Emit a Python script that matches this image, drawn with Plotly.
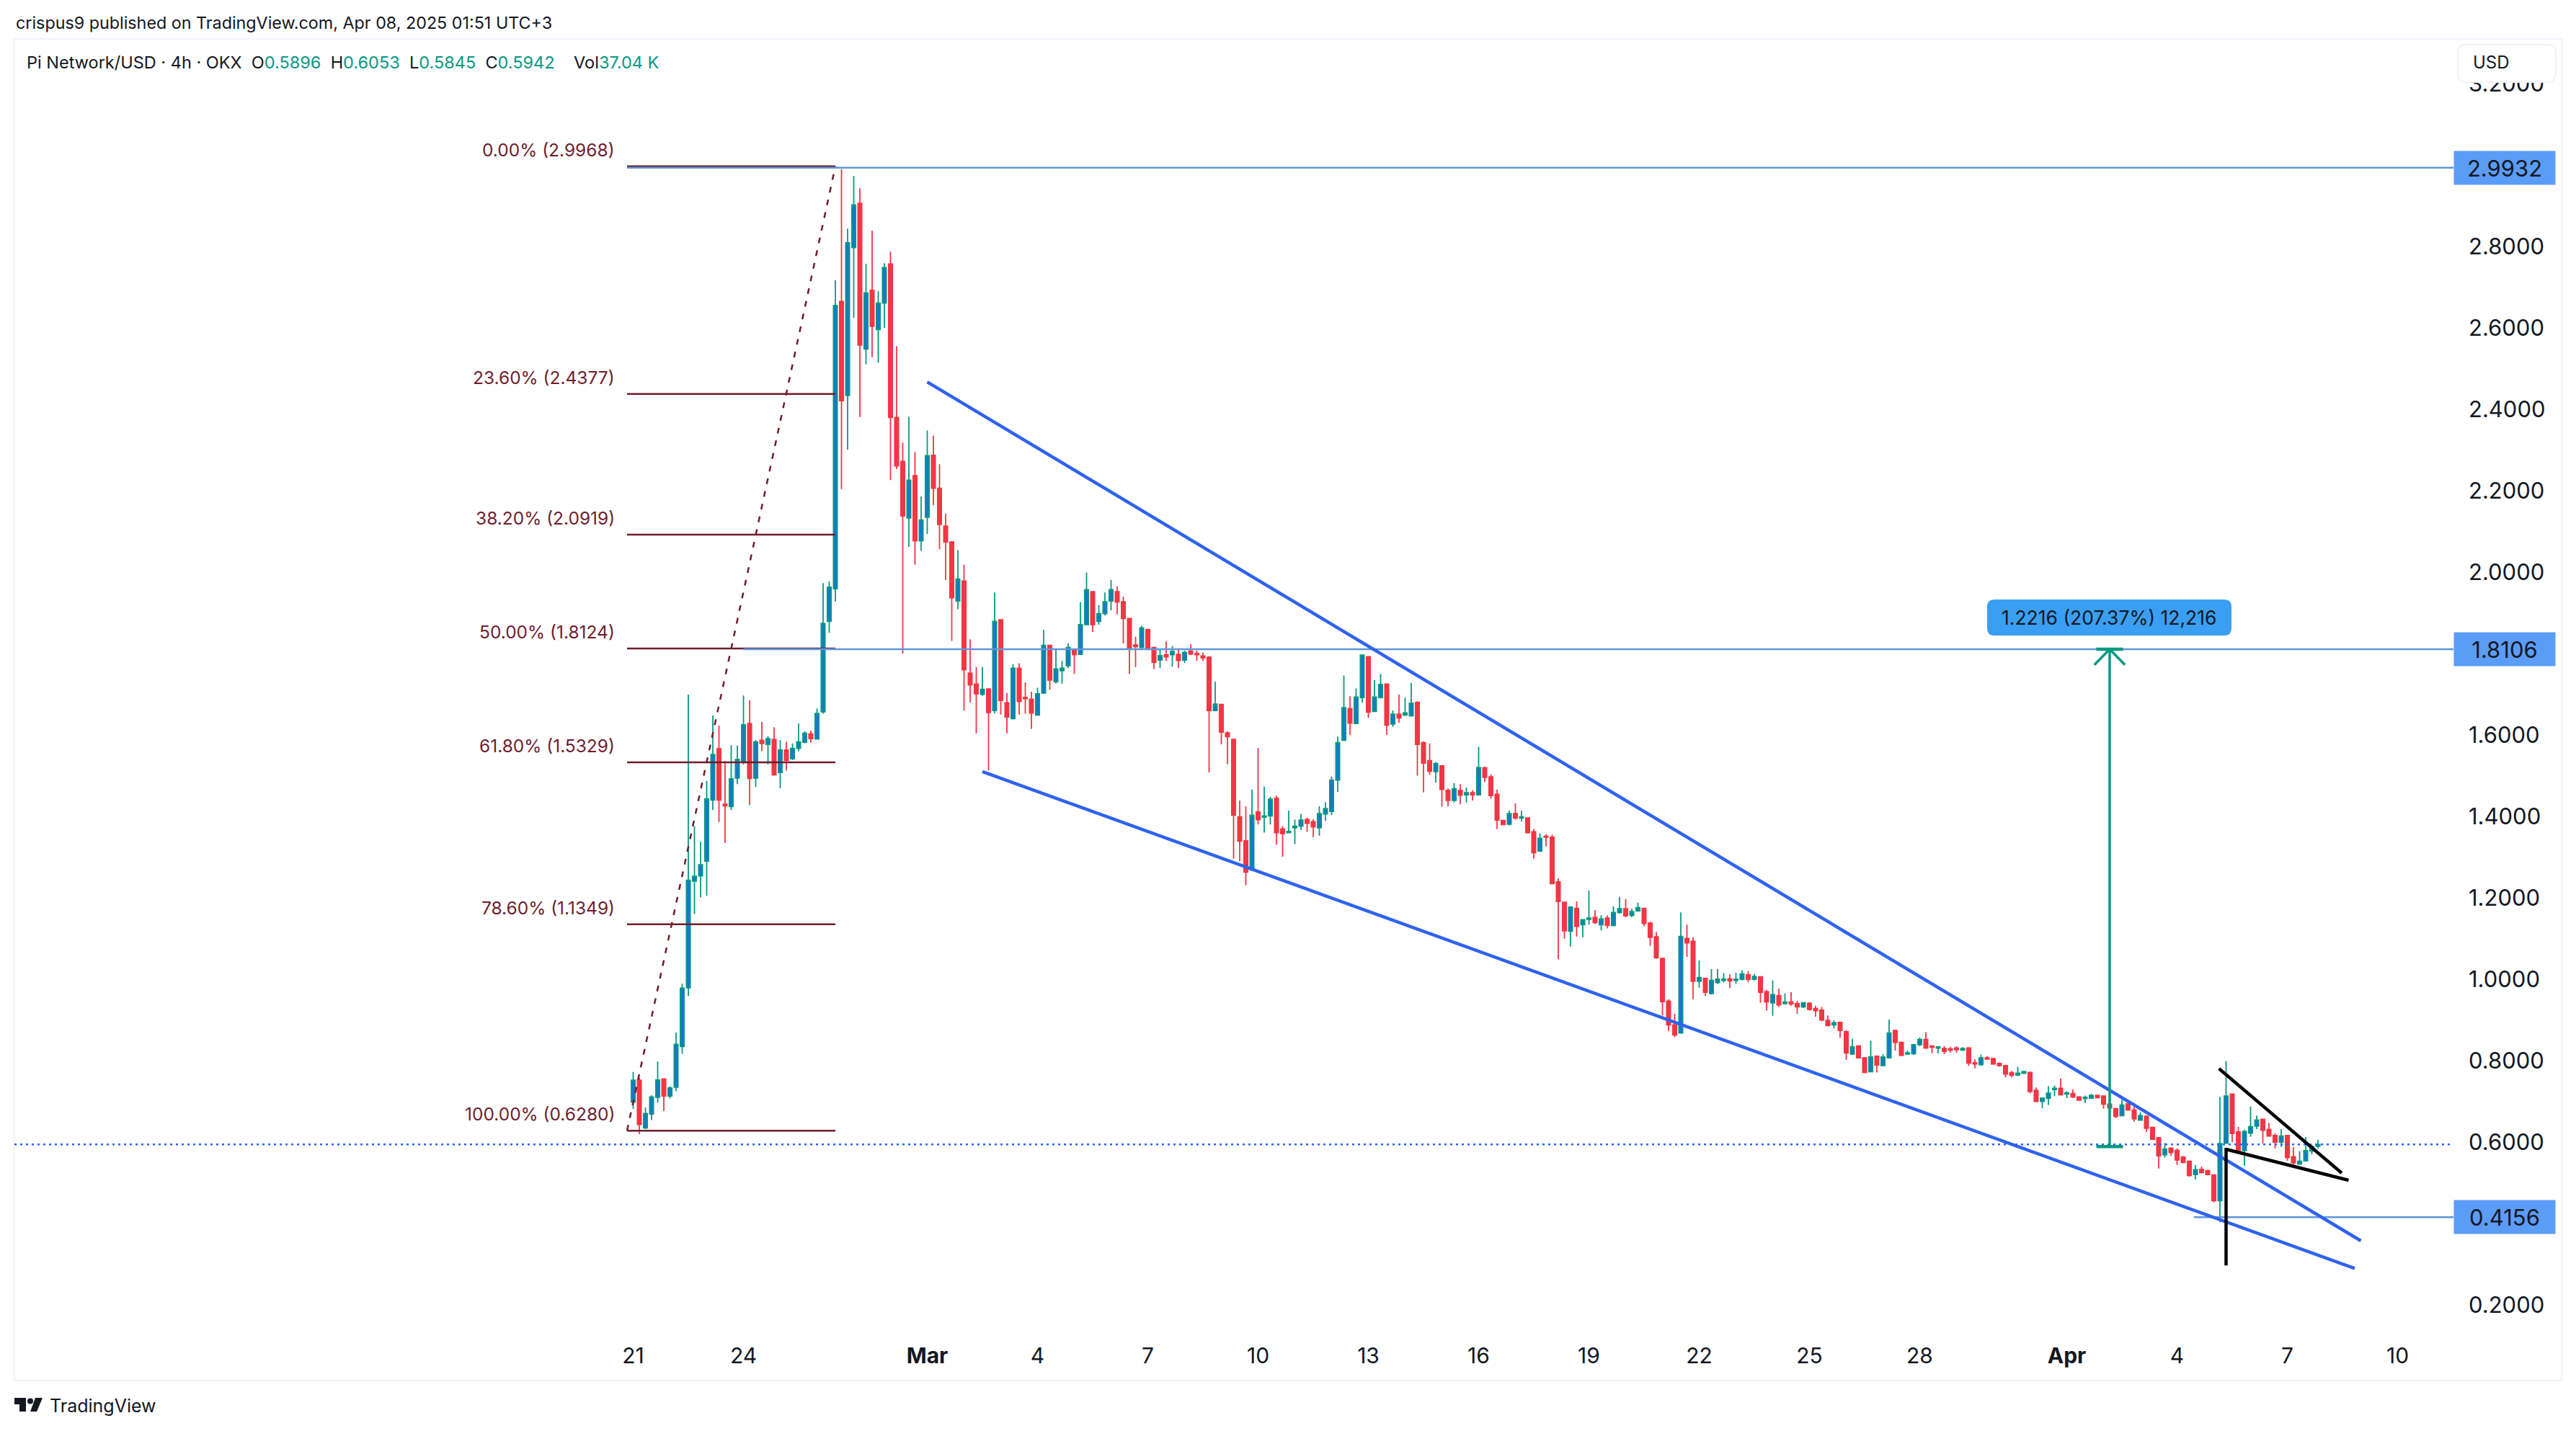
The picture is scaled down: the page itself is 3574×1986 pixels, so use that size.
import pandas as pd
import plotly.graph_objects as go

# page body keeps its default 8px margin, so the figure is 16px smaller than the window
PAGE_W, PAGE_H, BODY = 3574, 1986, 8
W, H = PAGE_W - 2 * BODY, PAGE_H - 2 * BODY
FONT = "Inter"
INK = "#131722"
TEAL = "#089981"
RED = "#f23645"
BODY_BLUE = "#1976d2"
WEDGE = "#2f62ee"
LEVEL = "#5f96dc"
LABEL_BOX = "#5b9cf6"
FIB = "#6f1d2c"

opens = [
    .698, .752, .635, .669, .710, .755, .713, .735, .835, .979,
    1.241, 1.254, 1.290, 1.440, 1.566, 1.430, 1.424, 1.494, 1.535, 1.628,
    1.494, 1.587, 1.577, 1.589, 1.508, 1.563, 1.542, 1.567, 1.582, 1.603,
    1.590, 1.657, 1.879, 1.959, 2.665, 2.434, 2.797, 2.906, 2.548, 2.692,
    2.596, 2.661, 2.757, 2.380, 2.272, 2.133, 2.237, 2.077, 2.135, 2.287,
    2.206, 2.113, 2.074, 1.929, 1.978, 1.752, 1.725, 1.700, 1.713, 1.660,
    1.883, 1.679, 1.640, 1.764, 1.692, 1.688, 1.649, 1.703, 1.820, 1.731,
    1.758, 1.770, 1.810, 1.798, 1.871, 1.952, 1.879, 1.898, 1.929, 1.952,
    1.927, 1.886, 1.821, 1.815, 1.859, 1.815, 1.784, 1.797, 1.797, 1.798,
    1.784, 1.806, 1.800, 1.794, 1.791, 1.660, 1.675, 1.605, 1.589, 1.399,
    1.340, 1.269, 1.411, 1.398, 1.401, 1.445, 1.369, 1.360, 1.372, 1.376,
    1.392, 1.387, 1.372, 1.406, 1.412, 1.489, 1.587, 1.665, 1.628, 1.692,
    1.792, 1.658, 1.692, 1.725, 1.627, 1.651, 1.649, 1.647, 1.680, 1.581,
    1.537, 1.510, 1.524, 1.464, 1.439, 1.464, 1.453, 1.458, 1.453, 1.519,
    1.497, 1.454, 1.390, 1.381, 1.407, 1.396, 1.396, 1.362, 1.315, 1.351,
    1.349, 1.239, 1.189, 1.118, 1.174, 1.134, 1.147, 1.152, 1.134, 1.150,
    1.132, 1.164, 1.173, 1.157, 1.168, 1.174, 1.138, 1.104, 1.051, .946,
    .888, .868, 1.100, 1.093, .995, 1.002, .965, .992, .997, 1.001,
    .997, 1.000, 1.011, 1.000, 1.006, .969, .942, .960, .940, .944,
    .940, .932, .941, .928, .924, .899, .888, .894, .871, .816,
    .836, .807, .773, .811, .788, .807, .874, .845, .816, .817,
    .839, .852, .836, .831, .830, .829, .831, .826, .831, .795,
    .790, .807, .805, .793, .788, .770, .765, .769, .771, .727,
    .700, .708, .729, .732, .718, .719, .711, .707, .708, .715,
    .713, .693, .682, .665, .694, .679, .654, .663, .636, .611,
    .569, .585, .580, .563, .553, .520, .533, .530, .519, .456,
    .597, .718, .625, .579, .622, .639, .656, .631, .616, .600,
    .616, .564, .546, .554, .578, .5896,
]
closes = [
    .752, .643, .670, .711, .753, .713, .733, .840, .978, 1.243,
    1.253, 1.281, 1.443, 1.552, 1.440, 1.426, 1.492, 1.540, 1.625, 1.493,
    1.583, 1.579, 1.591, 1.502, 1.563, 1.538, 1.567, 1.583, 1.604, 1.591,
    1.653, 1.874, 1.963, 2.655, 2.421, 2.809, 2.902, 2.558, 2.686, 2.604,
    2.661, 2.748, 2.380, 2.261, 2.138, 2.226, 2.077, 2.128, 2.286, 2.206,
    2.117, 2.074, 1.937, 1.983, 1.760, 1.723, 1.701, 1.712, 1.655, 1.879,
    1.685, 1.644, 1.764, 1.682, 1.689, 1.654, 1.701, 1.820, 1.735, 1.762,
    1.764, 1.815, 1.797, 1.871, 1.957, 1.871, 1.898, 1.927, 1.957, 1.927,
    1.886, 1.813, 1.817, 1.863, 1.811, 1.778, 1.795, 1.792, 1.805, 1.783,
    1.803, 1.799, 1.797, 1.789, 1.660, 1.676, 1.607, 1.596, 1.403, 1.339,
    1.263, 1.403, 1.392, 1.401, 1.442, 1.360, 1.358, 1.363, 1.376, 1.391,
    1.383, 1.374, 1.407, 1.419, 1.489, 1.581, 1.667, 1.629, 1.693, 1.796,
    1.656, 1.693, 1.724, 1.624, 1.651, 1.642, 1.654, 1.678, 1.577, 1.531,
    1.511, 1.530, 1.466, 1.439, 1.468, 1.452, 1.458, 1.453, 1.520, 1.496,
    1.451, 1.391, 1.380, 1.407, 1.396, 1.399, 1.360, 1.311, 1.346, 1.349,
    1.235, 1.191, 1.119, 1.177, 1.130, 1.146, 1.150, 1.139, 1.148, 1.132,
    1.164, 1.173, 1.156, 1.166, 1.176, 1.137, 1.103, 1.053, .945, .888,
    .863, 1.105, 1.089, .995, 1.004, .968, .997, 1.000, 1.000, .996,
    1.000, 1.013, 1.000, 1.007, .968, .944, .962, .937, .944, .939,
    .932, .942, .926, .923, .900, .886, .893, .874, .819, .834,
    .807, .771, .809, .789, .809, .868, .845, .813, .819, .839,
    .852, .831, .833, .834, .823, .826, .827, .830, .794, .792,
    .807, .804, .792, .788, .767, .764, .769, .773, .724, .700,
    .708, .720, .732, .716, .721, .711, .703, .710, .715, .709,
    .693, .684, .663, .691, .679, .657, .665, .634, .607, .566,
    .583, .574, .556, .550, .518, .532, .525, .520, .456, .596,
    .713, .621, .578, .626, .638, .654, .629, .615, .600, .615,
    .562, .549, .553, .579, .589, .5942,
]
highs = [
    .772, .758, .685, .715, .798, .756, .737, .869, .989, 1.699,
    1.376, 1.338, 1.487, 1.648, 1.623, 1.536, 1.575, 1.574, 1.697, 1.685,
    1.587, 1.632, 1.597, 1.619, 1.587, 1.583, 1.579, 1.628, 1.609, 1.611,
    1.665, 1.973, 1.977, 2.717, 2.990, 2.844, 2.973, 2.943, 2.757, 2.839,
    2.690, 2.759, 2.787, 2.555, 2.318, 2.382, 2.295, 2.186, 2.348, 2.335,
    2.265, 2.144, 2.076, 2.054, 2.018, 1.835, 1.767, 1.767, 1.713, 1.950,
    1.883, 1.703, 1.774, 1.776, 1.729, 1.706, 1.716, 1.858, 1.820, 1.813,
    1.782, 1.825, 1.810, 1.926, 1.999, 1.952, 1.919, 1.950, 1.981, 1.965,
    1.940, 1.886, 1.841, 1.868, 1.859, 1.815, 1.809, 1.830, 1.818, 1.813,
    1.807, 1.823, 1.807, 1.802, 1.794, 1.731, 1.675, 1.609, 1.589, 1.439,
    1.425, 1.466, 1.568, 1.473, 1.448, 1.451, 1.376, 1.414, 1.392, 1.406,
    1.397, 1.393, 1.425, 1.435, 1.498, 1.596, 1.746, 1.695, 1.714, 1.798,
    1.794, 1.735, 1.750, 1.725, 1.660, 1.699, 1.692, 1.728, 1.683, 1.584,
    1.579, 1.533, 1.526, 1.468, 1.482, 1.479, 1.471, 1.464, 1.571, 1.522,
    1.503, 1.466, 1.391, 1.414, 1.432, 1.414, 1.398, 1.369, 1.358, 1.356,
    1.355, 1.248, 1.190, 1.179, 1.191, 1.147, 1.218, 1.170, 1.157, 1.157,
    1.179, 1.202, 1.197, 1.173, 1.188, 1.174, 1.141, 1.116, 1.053, .951,
    .915, 1.164, 1.134, 1.103, 1.046, 1.004, 1.025, 1.025, 1.015, 1.012,
    1.016, 1.022, 1.020, 1.013, 1.006, .974, .997, .977, .965, .968,
    .947, .944, .944, .935, .932, .911, .899, .896, .875, .854,
    .838, .809, .849, .813, .816, .901, .876, .847, .825, .841,
    .857, .870, .838, .836, .836, .834, .835, .833, .833, .803,
    .815, .811, .807, .795, .790, .775, .785, .775, .773, .734,
    .708, .737, .739, .756, .725, .729, .713, .714, .718, .716,
    .715, .696, .684, .704, .698, .696, .673, .666, .638, .612,
    .598, .587, .584, .566, .555, .544, .540, .532, .519, .711,
    .799, .718, .637, .630, .687, .665, .656, .647, .621, .632,
    .616, .588, .578, .612, .594, .6053,
]
lows = [
    .682, .619, .632, .654, .697, .676, .707, .725, .817, .959,
    1.160, 1.201, 1.205, 1.416, 1.386, 1.335, 1.416, 1.479, 1.528, 1.428,
    1.472, 1.560, 1.528, 1.500, 1.469, 1.513, 1.538, 1.560, 1.579, 1.581,
    1.589, 1.652, 1.851, 1.928, 2.204, 2.301, 2.625, 2.381, 2.510, 2.528,
    2.514, 2.600, 2.226, 2.253, 1.800, 2.062, 2.018, 2.052, 2.094, 2.164,
    2.056, 1.981, 1.831, 1.909, 1.660, 1.680, 1.604, 1.696, 1.513, 1.653,
    1.650, 1.604, 1.638, 1.650, 1.652, 1.615, 1.648, 1.701, 1.711, 1.726,
    1.726, 1.764, 1.750, 1.797, 1.870, 1.853, 1.871, 1.894, 1.906, 1.896,
    1.825, 1.750, 1.767, 1.813, 1.808, 1.762, 1.764, 1.782, 1.768, 1.764,
    1.777, 1.796, 1.782, 1.782, 1.508, 1.658, 1.577, 1.528, 1.296, 1.290,
    1.231, 1.266, 1.380, 1.360, 1.380, 1.331, 1.301, 1.360, 1.332, 1.367,
    1.362, 1.349, 1.352, 1.389, 1.403, 1.460, 1.585, 1.600, 1.627, 1.679,
    1.642, 1.656, 1.690, 1.600, 1.620, 1.630, 1.647, 1.645, 1.500, 1.459,
    1.502, 1.483, 1.424, 1.425, 1.434, 1.430, 1.434, 1.439, 1.452, 1.484,
    1.444, 1.369, 1.380, 1.378, 1.392, 1.387, 1.358, 1.296, 1.313, 1.326,
    1.235, 1.049, 1.100, 1.080, 1.105, 1.103, 1.134, 1.136, 1.120, 1.125,
    1.130, 1.161, 1.152, 1.152, 1.166, 1.130, 1.082, 1.050, .911, .872,
    .857, .866, 1.055, .951, .979, .959, .963, .988, .992, .978,
    .989, .997, .992, .997, .942, .923, .910, .932, .938, .935,
    .915, .929, .923, .908, .897, .885, .879, .856, .802, .814,
    .807, .769, .773, .771, .787, .807, .825, .811, .814, .814,
    .836, .829, .818, .818, .816, .820, .820, .824, .787, .781,
    .787, .803, .790, .785, .759, .759, .762, .768, .720, .698,
    .683, .691, .713, .714, .708, .708, .702, .696, .706, .707,
    .682, .682, .659, .665, .677, .650, .652, .625, .605, .535,
    .562, .566, .544, .548, .515, .508, .523, .518, .452, .403,
    .596, .600, .576, .542, .613, .632, .597, .614, .584, .588,
    .554, .536, .545, .553, .570, .5845,
]

fib_levels = [2.9968, 2.4377, 2.0919, 1.8124, 1.5329, 1.1349, 0.6280]
fib_names = ["0.00%", "23.60%", "38.20%", "50.00%", "61.80%", "78.60%", "100.00%"]
fib_start = "2025-02-20 20:00"
fib_end = "2025-02-26 12:00"

price_levels = [2.9932, 1.8106, 0.4156]
price_level_starts = [fib_start, "2025-02-24 00:00", "2025-04-04 11:00"]
last_close = 0.5942

wedge_upper_x = ["2025-03-01 00:00", "2025-04-09 00:00"]
wedge_upper_y = [2.467, 0.3575]
wedge_lower_x = ["2025-03-02 12:00", "2025-04-08 20:00"]
wedge_lower_y = [1.510, 0.2894]

flag_pole_x = ["2025-04-05 08:00", "2025-04-05 08:00"]
flag_pole_y = [0.586, 0.297]
flag_upper_x = ["2025-04-05 03:20", "2025-04-08 11:30"]
flag_upper_y = [0.7805, 0.524]
flag_lower_x = ["2025-04-05 08:00", "2025-04-08 16:00"]
flag_lower_y = [0.5823, 0.5062]

measure_date = pd.Timestamp("2025-04-02 04:00")
measure_from = 0.589
measure_to = 1.8106
measure_wing = 1.772

y_ticks = [0.2, 0.6, 0.8, 1.0, 1.2, 1.4, 1.6, 2.0, 2.2, 2.4, 2.6, 2.8, 3.2]
x_tick_dates = ["2025-02-21", "2025-02-24", "2025-03-01", "2025-03-04", "2025-03-07", "2025-03-10",
                "2025-03-13", "2025-03-16", "2025-03-19", "2025-03-22", "2025-03-25", "2025-03-28",
                "2025-04-01", "2025-04-04", "2025-04-07", "2025-04-10"]
x_tick_labels = ["21", "24", "<b>Mar</b>", "4", "7", "10", "13", "16", "19", "22", "25", "28",
                 "<b>Apr</b>", "4", "7", "10"]

assert len(opens) == len(closes) == len(highs) == len(lows) == 276
candle_times = pd.date_range("2025-02-21", periods=len(opens), freq="4h")

# pixel layout of the page
PLOT_L, PLOT_R, PLOT_T, PLOT_B = 20, 3404, 54, 1855
PX_PER_DAY = 51.0
X0_PX = 878.5
ZERO_PX = 1811
PX_PER_UNIT = 565


def px(x):
    return (x - BODY) / W


def py(y):
    return 1 - (y - BODY) / H


def rounded(x0, y0, x1, y1, r):
    a0, a1, b0, b1 = px(x0), px(x1), py(y0), py(y1)
    dx, dy = r / W, r / H
    return (f"M {a0 + dx} {b0} L {a1 - dx} {b0} Q {a1} {b0} {a1} {b0 - dy} "
            f"L {a1} {b1 + dy} Q {a1} {b1} {a1 - dx} {b1} L {a0 + dx} {b1} "
            f"Q {a0} {b1} {a0} {b1 + dy} L {a0} {b0 - dy} Q {a0} {b0} {a0 + dx} {b0} Z")


def poly(points):
    return "M " + " L ".join(f"{px(a)} {py(b)}" for a, b in points) + " Z"


x_start = pd.Timestamp("2025-02-21") + pd.Timedelta(days=(PLOT_L - X0_PX) / PX_PER_DAY)
x_end = pd.Timestamp("2025-02-21") + pd.Timedelta(days=(PLOT_R - X0_PX) / PX_PER_DAY)
y_low = 0.2 + (ZERO_PX - PLOT_B) / PX_PER_UNIT
y_high = 0.2 + (ZERO_PX - PLOT_T) / PX_PER_UNIT

fig = go.Figure()


def add_line(xs, ys, color, width, dash="solid"):
    fig.add_trace(go.Scatter(x=xs, y=ys, mode="lines", line=dict(color=color, width=width, dash=dash),
                             hoverinfo="skip", showlegend=False))


# fib retracement, levels and wedge sit under the candles
for level in fib_levels:
    add_line([fib_start, fib_end], [level, level], FIB, 2.5)
add_line([fib_start, fib_end], [fib_levels[-1], fib_levels[0]], FIB, 2.5, "8px,10px")
for level, start in zip(price_levels, price_level_starts):
    add_line([start, x_end], [level, level], LEVEL, 2.5)
add_line(wedge_upper_x, wedge_upper_y, WEDGE, 4.5)
add_line(wedge_lower_x, wedge_lower_y, WEDGE, 4.5)

fig.add_trace(go.Candlestick(
    x=candle_times, open=opens, high=highs, low=lows, close=closes,
    increasing=dict(line=dict(color=TEAL, width=1.8), fillcolor=BODY_BLUE),
    decreasing=dict(line=dict(color=RED, width=1.8), fillcolor=RED),
    whiskerwidth=0, showlegend=False, hoverinfo="skip",
))

add_line([x_start, x_end], [last_close, last_close], "#2962ff", 2.5, "3px,5px")
add_line(flag_pole_x, flag_pole_y, "#000000", 4.5)
add_line(flag_upper_x, flag_upper_y, "#000000", 4.5)
add_line(flag_lower_x, flag_lower_y, "#000000", 4.5)

# long position measure: stem, end bars and arrow head
bar = pd.Timedelta(hours=8.7)
wing = pd.Timedelta(hours=10)
add_line([measure_date, measure_date], [measure_from, measure_to], TEAL, 3.5)
add_line([measure_date - bar, measure_date + bar], [measure_from, measure_from], TEAL, 4.5)
add_line([measure_date - bar, measure_date + bar], [measure_to, measure_to], TEAL, 4.5)
add_line([measure_date - wing, measure_date, measure_date + wing], [measure_wing, measure_to, measure_wing], TEAL, 3.5)

annotations = []
for level, name in zip(fib_levels, fib_names):
    annotations.append(dict(x=fib_start, y=level, xref="x", yref="y", text=f"{name} ({level:.4f})",
                            showarrow=False, xanchor="right", yanchor="middle", xshift=-15, yshift=23,
                            font=dict(family=FONT, size=24.5, color=FIB)))
for level in price_levels:
    annotations.append(dict(x=px(3404), y=level, xref="paper", yref="y", text=f"{level:.4f}", showarrow=False,
                            xanchor="left", yanchor="middle", width=140, height=46, borderpad=0,
                            bgcolor=LABEL_BOX, font=dict(family=FONT, size=31, color=INK)))
annotations.append(dict(x=px(2926), y=py(857), xref="paper", yref="paper", showarrow=False,
                        text="1.2216 (207.37%) 12,216", xanchor="center", yanchor="middle",
                        font=dict(family=FONT, size=26.5, color=INK)))
annotations.append(dict(x=px(3429), y=py(87), xref="paper", yref="paper", text="USD", showarrow=False,
                        xanchor="left", yanchor="middle", font=dict(family=FONT, size=24, color=INK)))
annotations.append(dict(x=px(20), y=py(32), xref="paper", yref="paper", showarrow=False, xanchor="left",
                        yanchor="middle", text="crispus9 published on TradingView.com, Apr 08, 2025 01:51 UTC+3",
                        font=dict(family=FONT, size=23.3, color=INK)))


def val(s):
    return f'<span style="color:{TEAL}">{s}</span>'


GAP = "\u00a0\u00a0"
legend_text = ("Pi Network/USD · 4h · OKX" + GAP + "O" + val("0.5896") + GAP + "H" + val("0.6053") + GAP + "L"
               + val("0.5845") + GAP + "C" + val("0.5942") + GAP + GAP + "Vol" + val("37.04 K"))
annotations.append(dict(x=px(35), y=py(86), xref="paper", yref="paper", text=legend_text, showarrow=False,
                        xanchor="left", yanchor="middle", font=dict(family=FONT, size=23.5, color=INK)))
annotations.append(dict(x=px(67), y=py(1951), xref="paper", yref="paper", text="TradingView", showarrow=False,
                        xanchor="left", yanchor="middle", font=dict(family=FONT, size=25, color=INK)))

shapes = [
    # outer panel
    dict(type="rect", xref="paper", yref="paper", x0=px(20), x1=px(3554), y0=py(1916), y1=py(54),
         line=dict(color="#f0f3fa", width=2), layer="below"),
    # measure label
    dict(type="path", xref="paper", yref="paper", path=rounded(2757, 832, 3096, 882, 10),
         fillcolor="#3a9ff2", line=dict(width=0), layer="above"),
    # USD button hides the top of the 3.2000 tick
    dict(type="path", xref="paper", yref="paper", path=rounded(3410, 62, 3546, 114, 12),
         fillcolor="#ffffff", line=dict(color="#f0f3fa", width=2), layer="above"),
    # TradingView logo
    dict(type="path", xref="paper", yref="paper", fillcolor=INK, line=dict(width=0),
         path=poly([(20, 1940), (36, 1940), (36, 1959), (27, 1959), (27, 1949), (20, 1949)])),
    dict(type="circle", xref="paper", yref="paper", x0=px(38), x1=px(46), y0=py(1948.5), y1=py(1940.5),
         fillcolor=INK, line=dict(width=0)),
    dict(type="path", xref="paper", yref="paper", fillcolor=INK, line=dict(width=0),
         path=poly([(49, 1940), (59, 1940), (51, 1959), (42, 1959)])),
]

fig.update_layout(
    width=W, height=H,
    margin=dict(l=0, r=0, t=0, b=0),
    paper_bgcolor="#ffffff", plot_bgcolor="#ffffff",
    showlegend=False, hovermode=False,
    boxgap=0.12,
    font=dict(family=FONT, color=INK),
    annotations=annotations, shapes=shapes,
    xaxis=dict(
        domain=[px(PLOT_L), px(PLOT_R)], range=[x_start, x_end], type="date",
        rangeslider=dict(visible=False), showgrid=False, zeroline=False, showline=False,
        tickmode="array", tickvals=x_tick_dates, ticktext=x_tick_labels, ticks="", ticklen=0,
        tickfont=dict(family=FONT, size=30, color=INK), ticklabelstandoff=6,
    ),
    yaxis=dict(
        domain=[py(PLOT_B), py(PLOT_T)], range=[y_low, y_high], side="right",
        showgrid=False, zeroline=False, showline=False,
        tickmode="array", tickvals=y_ticks, ticktext=[f"{t:.4f}" for t in y_ticks], ticks="", ticklen=0,
        tickfont=dict(family=FONT, size=31, color=INK), ticklabelstandoff=20,
    ),
)

fig.write_html("out.html")
